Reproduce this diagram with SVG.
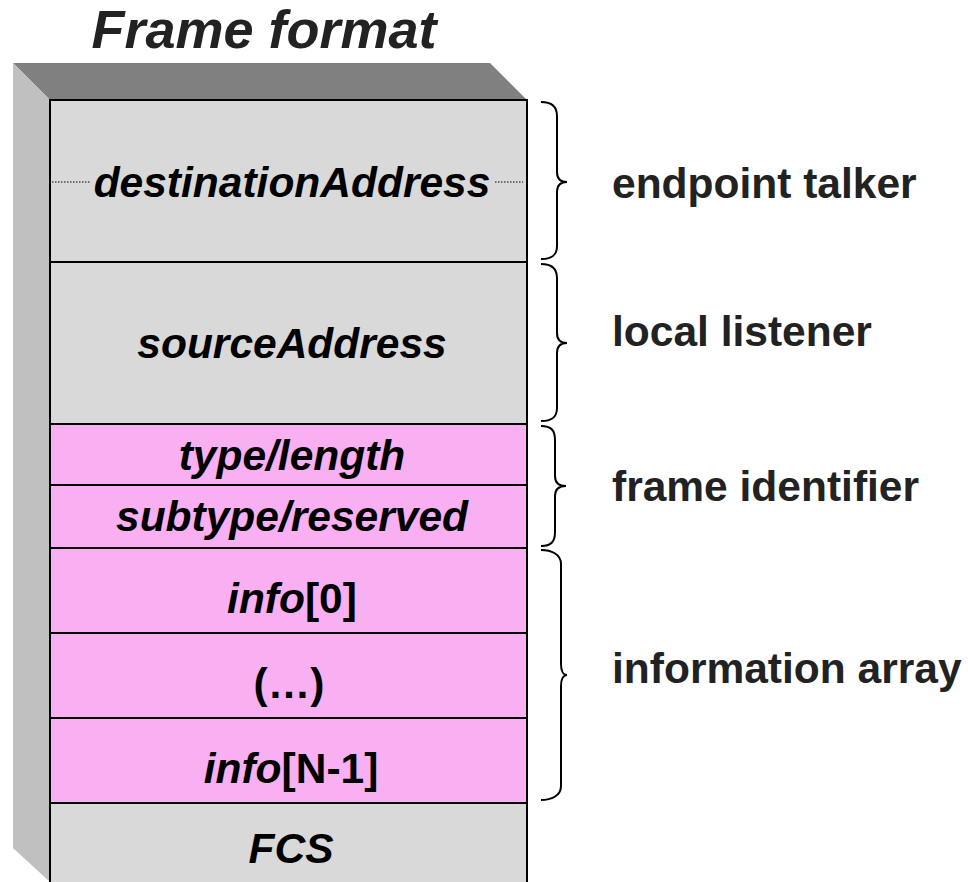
<svg xmlns="http://www.w3.org/2000/svg" width="968" height="882" viewBox="0 0 968 882">
<style>
.row{stroke:#000;stroke-width:2}
.gray{fill:#d9d9d9}
.pink{fill:#f8b0f2}
.t{font-family:"Liberation Sans",Arial,sans-serif;font-weight:bold;font-size:42.5px;fill:#000}
.it{font-style:italic}
.lbl{font-family:"Liberation Sans",Arial,sans-serif;font-weight:bold;font-size:42.5px;fill:#222}
.brace{fill:none;stroke:#000;stroke-width:2}
.dot{stroke:#000;stroke-width:1;stroke-dasharray:1.5 1.5}
</style>
<rect width="968" height="882" fill="#fff"/>
<text x="264" y="48" text-anchor="middle" class="t it" style="font-size:54px;fill:#222">Frame format</text>
<g id="shadow">
<polygon points="13,63 490,63 527,100 50,100" fill="#808080"/>
<polygon points="13,63 50,100 50,882 13,848" fill="#c0c0c0"/>
</g>
<g id="destinationAddress">
<rect x="50" y="100" width="477" height="162" class="row gray"/>
<line x1="52" y1="182" x2="90" y2="182" class="dot"/>
<line x1="495" y1="182" x2="523" y2="182" class="dot"/>
<text x="292" y="197" text-anchor="middle" class="t it">destinationAddress</text>
</g>
<g id="sourceAddress">
<rect x="50" y="262" width="477" height="162" class="row gray"/>
<text x="292" y="358" text-anchor="middle" class="t it">sourceAddress</text>
</g>
<g id="typeLength">
<rect x="50" y="424" width="477" height="61" class="row pink"/>
<text x="292" y="470" text-anchor="middle" class="t it">type/length</text>
</g>
<g id="subtypeReserved">
<rect x="50" y="485" width="477" height="63" class="row pink"/>
<text x="292" y="531" text-anchor="middle" class="t it">subtype/reserved</text>
</g>
<g id="info0">
<rect x="50" y="548" width="477" height="85" class="row pink"/>
<text x="292" y="613" text-anchor="middle" class="t"><tspan class="it">info</tspan>[0]</text>
</g>
<g id="ellipsis">
<rect x="50" y="633" width="477" height="85" class="row pink"/>
<text x="289" y="698" text-anchor="middle" class="t">(…)</text>
</g>
<g id="infoN1">
<rect x="50" y="718" width="477" height="85" class="row pink"/>
<text x="291" y="783" text-anchor="middle" class="t"><tspan class="it">info</tspan>[N-1]</text>
</g>
<g id="FCS">
<rect x="50" y="803" width="477" height="90" class="row gray"/>
<text x="291" y="863" text-anchor="middle" class="t it">FCS</text>
</g>
<g id="connectors">
<path class="brace" d="M541,102 C551,102 557,106 557,116 L557,172 C557,178 560,182 567,182 C560,182 557,186 557,192 L557,246 C557,256 551,259 541,259"/>
<path class="brace" d="M541,264 C551,264 557,268 557,278 L557,333 C557,339 560,343 567,343 C560,343 557,347 557,353 L557,408 C557,418 551,421 541,421"/>
<path class="brace" d="M541,426 C551,426 555,430 555,440 L555,476 C555,482 558,486 566,486 C558,486 555,490 555,496 L555,532 C555,542 551,546 541,546"/>
<path class="brace" d="M541,550 C551,550 561,554 561,564 L561,664 C561,670 563,675 567,675 C563,675 561,680 561,686 L561,786 C561,796 551,800 541,800"/>
</g>
<g id="labels">
<text x="612" y="198" class="lbl">endpoint talker</text>
<text x="612" y="346" class="lbl">local listener</text>
<text x="612" y="501" class="lbl">frame identifier</text>
<text x="612" y="683" class="lbl">information array</text>
</g>
</svg>
